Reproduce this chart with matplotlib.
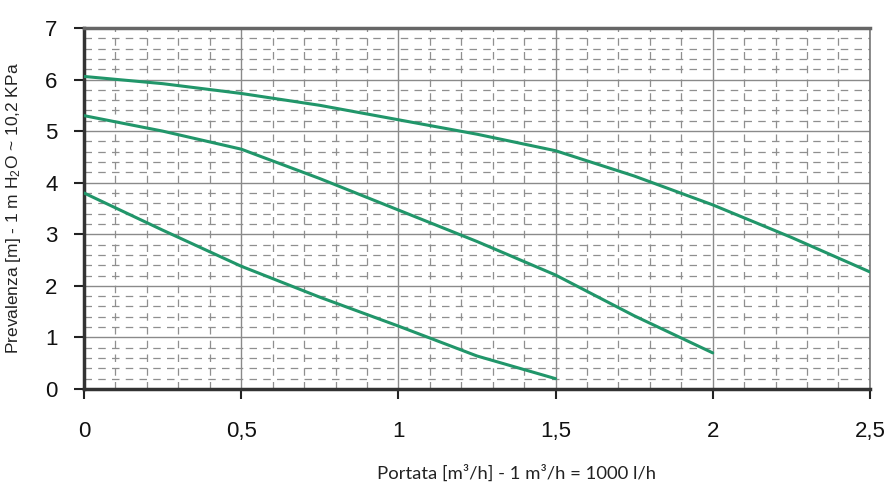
import matplotlib
matplotlib.use("Agg")
import matplotlib.pyplot as plt
from matplotlib.ticker import MultipleLocator

# Data
flow = [0, 0.25, 0.5, 0.75, 1.0, 1.25, 1.5, 1.75, 2.0, 2.25, 2.5]
head_high = [6.06, 5.92, 5.73, 5.50, 5.22, 4.94, 4.62, 4.13, 3.57, 2.94, 2.27]
flow_mid = [0, 0.25, 0.5, 0.75, 1.0, 1.25, 1.5, 1.75, 2.0]
head_mid = [5.30, 5.00, 4.65, 4.08, 3.47, 2.86, 2.21, 1.42, 0.70]
flow_low = [0, 0.25, 0.5, 0.75, 1.0, 1.25, 1.5]
head_low = [3.80, 3.08, 2.38, 1.78, 1.22, 0.64, 0.20]

x_ticks = [0, 0.5, 1, 1.5, 2, 2.5]
x_ticklabels = ["0", "0,5", "1", "1,5", "2", "2,5"]
y_ticks = [0, 1, 2, 3, 4, 5, 6, 7]

plt.rcParams['font.family'] = ['Liberation Sans', 'DejaVu Sans']
plt.rcParams['mathtext.fontset'] = 'custom'
plt.rcParams['mathtext.rm'] = 'Liberation Sans'
plt.rcParams['mathtext.it'] = 'Liberation Sans:italic'

fig = plt.figure(figsize=(8.94, 4.82), dpi=100)
ax = fig.add_axes([0.094, 0.193, 0.879, 0.749])

green = "#21966a"
for xs, ys in [(flow, head_high), (flow_mid, head_mid), (flow_low, head_low)]:
    ax.plot(xs, ys, color=green, lw=2.2, solid_capstyle='round', zorder=3)

ax.set_xlim(0, 2.5)
ax.set_ylim(0, 7)
ax.set_xticks(x_ticks)
ax.set_xticklabels(x_ticklabels)
ax.set_yticks(y_ticks)
ax.xaxis.set_minor_locator(MultipleLocator(0.1))
ax.yaxis.set_minor_locator(MultipleLocator(0.2))

ax.grid(which='major', color='#8a8a8a', lw=1.0, ls='-', zorder=1)
ax.grid(which='minor', color='#8f8f8f', lw=0.9, ls=(0, (6, 5)), zorder=1)
ax.tick_params(which='minor', length=0)
ax.tick_params(which='major', direction='out', length=7, width=1.5,
               color='#222222', labelsize=16, labelcolor='#111111')
ax.tick_params(axis='x', which='major', pad=16)
ax.tick_params(axis='y', which='major', pad=12)

ax.spines['left'].set_linewidth(2.5)
ax.spines['left'].set_color('#333333')
ax.spines['bottom'].set_linewidth(2.5)
ax.spines['bottom'].set_color('#333333')
ax.spines['top'].set_linewidth(2.5)
ax.spines['top'].set_color('#666666')
ax.spines['right'].set_linewidth(1.2)
ax.spines['right'].set_color('#777777')

ax.set_ylabel(r"Prevalenza [m] - 1 m H$_2$O ~ 10,2 KPa", fontsize=12.5,
              color='#222222', labelpad=16)
ax.set_xlabel("Portata [m³/h] - 1 m³/h = 1000 l/h", fontsize=13.3,
              family='Lato', color='#222222', labelpad=16)
ax.xaxis.label.set_x(0.55)

fig.savefig("out.png", dpi=100)
